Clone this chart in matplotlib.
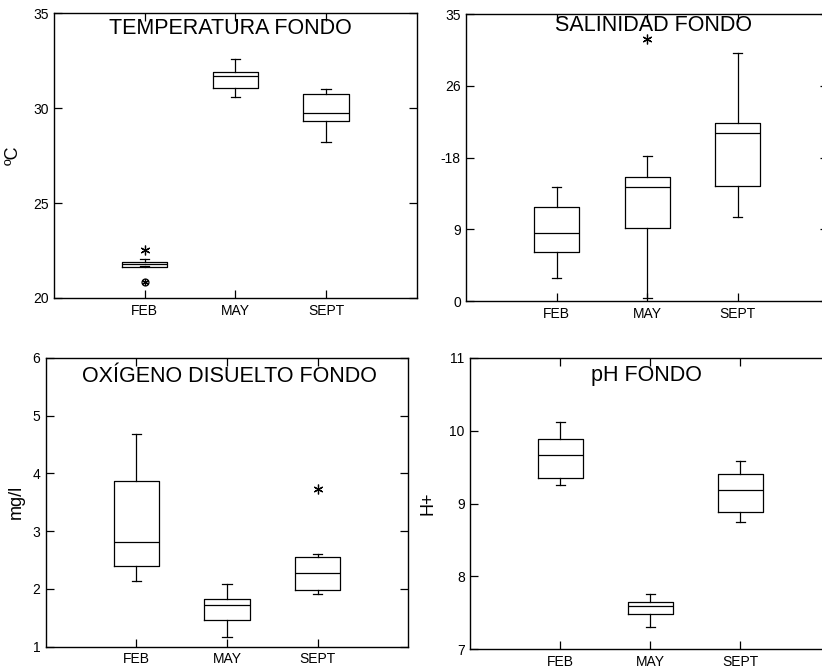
import matplotlib
matplotlib.use("Agg")
import matplotlib.pyplot as plt

plt.rcParams['font.family'] = ['Liberation Sans', 'DejaVu Sans']

months = ['FEB', 'MAY', 'SEPT']

# box stats per month: whisker low, q1, median, q3, whisker high
temp_lo = [21.70, 30.60, 28.20]
temp_q1 = [21.65, 31.07, 29.30]
temp_med = [21.77, 31.70, 29.75]
temp_q3 = [21.91, 31.91, 30.75]
temp_hi = [22.05, 32.58, 31.00]
temp_star = [[22.53], [], []]
temp_circle = [[20.86], [], []]

sal_lo = [2.76, 0.33, 10.24]
sal_q1 = [6.01, 8.90, 14.06]
sal_med = [8.25, 13.86, 20.50]
sal_q3 = [11.42, 15.08, 21.67]
sal_hi = [13.94, 17.68, 30.20]
sal_star = [[], [31.9], []]
sal_ticks = [0, 8.75, 17.5, 26.25, 35]
sal_labels = ['0', '9', '-18', '26', '35']

oxi_lo = [2.14, 1.16, 1.92]
oxi_q1 = [2.40, 1.46, 1.98]
oxi_med = [2.82, 1.72, 2.27]
oxi_q3 = [3.87, 1.82, 2.55]
oxi_hi = [4.68, 2.08, 2.61]
oxi_star = [[], [], [3.72]]

ph_lo = [9.26, 7.31, 8.74]
ph_q1 = [9.35, 7.49, 8.89]
ph_med = [9.67, 7.59, 9.19]
ph_q3 = [9.89, 7.65, 9.41]
ph_hi = [10.12, 7.76, 9.58]

ASTERISK = (6, 2, 0)


def make_stats(lo, q1, med, q3, hi):
    stats = []
    for i in range(len(months)):
        stats.append({'whislo': lo[i], 'q1': q1[i], 'med': med[i],
                      'q3': q3[i], 'whishi': hi[i], 'fliers': []})
    return stats


def draw_panel(rect, stats, title, title_xy, ylim, yticks, ylabels=None,
               ylabel=None, ylabel_x=-0.08):
    ax = fig.add_axes(rect)
    line = dict(color='black', linewidth=0.9)
    ax.bxp(stats, positions=[1, 2, 3], widths=0.5, showfliers=False,
           boxprops=line, whiskerprops=line, capprops=line,
           medianprops=dict(color='black', linewidth=0.9),
           capwidths=0.1)
    ax.set_xlim(0, 4)
    ax.set_ylim(*ylim)
    ax.set_xticks([1, 2, 3])
    ax.set_xticklabels(months)
    ax.set_yticks(yticks)
    if ylabels is not None:
        ax.set_yticklabels(ylabels)
    ax.tick_params(direction='in', top=True, right=True, length=6,
                   width=0.9, labelsize=10, pad=4)
    for s in ax.spines.values():
        s.set_linewidth(1.0)
    ax.text(title_xy[0], title_xy[1], title, fontsize=15.5,
            ha='center', va='center', transform=ax.transData)
    if ylabel:
        ax.set_ylabel(ylabel, fontsize=13)
        ax.yaxis.set_label_coords(ylabel_x, 0.5)
    return ax


def mark(ax, values, marker, size):
    for i in range(len(months)):
        for v in values[i]:
            ax.plot(i + 1, v, marker=marker, color='black', mfc='none',
                    mec='black', mew=0.9, markersize=size, linestyle='none')


fig = plt.figure(figsize=(8.22, 6.68), dpi=100)

ax1 = draw_panel([0.0657, 0.5539, 0.4412, 0.4266],
                 make_stats(temp_lo, temp_q1, temp_med, temp_q3, temp_hi),
                 'TEMPERATURA FONDO', (1.95, 34.2), (20, 35), [20, 25, 30, 35],
                 ylabel='ºC', ylabel_x=-0.088)
mark(ax1, temp_star, ASTERISK, 7)
mark(ax1, temp_circle, 'o', 5)
mark(ax1, temp_circle, ASTERISK, 5)

ax2 = draw_panel([0.5673, 0.5494, 0.4404, 0.4296],
                 make_stats(sal_lo, sal_q1, sal_med, sal_q3, sal_hi),
                 'SALINIDAD FONDO', (2.07, 33.6), (0, 35), sal_ticks, sal_labels)
mark(ax2, sal_star, ASTERISK, 7)

ax3 = draw_panel([0.0556, 0.0319, 0.4411, 0.4326],
                 make_stats(oxi_lo, oxi_q1, oxi_med, oxi_q3, oxi_hi),
                 'OXÍGENO DISUELTO FONDO', (2.03, 5.67), (1, 6), [1, 2, 3, 4, 5, 6],
                 ylabel='mg/l', ylabel_x=-0.057)
mark(ax3, oxi_star, ASTERISK, 7)

ax4 = draw_panel([0.5721, 0.0280, 0.4380, 0.4365],
                 make_stats(ph_lo, ph_q1, ph_med, ph_q3, ph_hi),
                 'pH FONDO', (1.96, 10.75), (7, 11), [7, 8, 9, 10, 11],
                 ylabel='H+', ylabel_x=-0.095)

fig.savefig('out.png', dpi=100)
